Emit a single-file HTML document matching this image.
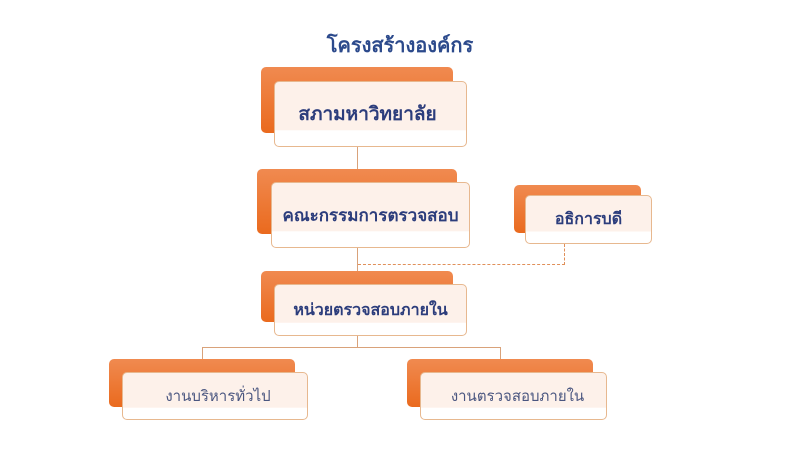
<!DOCTYPE html>
<html><head><meta charset="utf-8"><style>
body{margin:0;width:800px;height:450px;background:#fff;position:relative;overflow:hidden;font-family:"Liberation Sans","DejaVu Sans",sans-serif}
.o{position:absolute;background:linear-gradient(#f08a50,#ea6a1e);border-radius:5px}
.w{position:absolute;background:linear-gradient(#fdf1ea 0%,#fdf1ea 75%,#fff 76%);border:1.5px solid #e7b88f;border-radius:5px;box-sizing:border-box;display:flex;align-items:center;justify-content:center;color:#2c3d7c;font-weight:bold}
.l{position:absolute;background:#d9a27a}
.t{position:absolute;left:300px;width:200px;top:29px;text-align:center;color:#2c4a8c;font-size:20px;font-weight:bold}
</style></head><body>
<div class="t">โครงสร้างองค์กร</div>
<div class="l" style="left:357px;top:147px;width:1px;height:35px"></div>
<div class="l" style="left:357px;top:248px;width:1px;height:36px"></div>
<div class="l" style="left:357px;top:336px;width:1px;height:11px"></div>
<div class="l" style="left:202px;top:347px;width:298px;height:1px"></div>
<div class="l" style="left:202px;top:347px;width:1px;height:12px"></div>
<div class="l" style="left:500px;top:347px;width:1px;height:12px"></div>
<div style="position:absolute;left:358px;top:264px;width:207px;height:0;border-top:1.5px dashed #e0905a"></div>
<div style="position:absolute;left:564px;top:244px;width:0;height:21px;border-left:1.5px dashed #e0905a"></div>

<div class="o" style="left:261px;top:67px;width:192px;height:66px"></div>
<div class="w" style="left:274px;top:81px;width:193px;height:66px;font-size:19px;padding-right:6px">สภามหาวิทยาลัย</div>

<div class="o" style="left:257px;top:169px;width:200px;height:65px"></div>
<div class="w" style="left:271px;top:182px;width:199px;height:66px;font-size:17px">คณะกรรมการตรวจสอบ</div>

<div class="o" style="left:514px;top:185px;width:127px;height:48px"></div>
<div class="w" style="left:525px;top:195px;width:127px;height:49px;font-size:16px">อธิการบดี</div>

<div class="o" style="left:261px;top:271px;width:192px;height:51px"></div>
<div class="w" style="left:274px;top:284px;width:193px;height:52px;font-size:16px">หน่วยตรวจสอบภายใน</div>

<div class="o" style="left:109px;top:359px;width:186px;height:48px"></div>
<div class="w" style="left:122px;top:372px;width:186px;height:48px;font-size:15px;font-weight:normal;color:#4a5680;padding-left:6px">งานบริหารทั่วไป</div>

<div class="o" style="left:407px;top:359px;width:186px;height:48px"></div>
<div class="w" style="left:420px;top:372px;width:187px;height:48px;font-size:15px;font-weight:normal;color:#4a5680;padding-left:8px">งานตรวจสอบภายใน</div>
</body></html>
